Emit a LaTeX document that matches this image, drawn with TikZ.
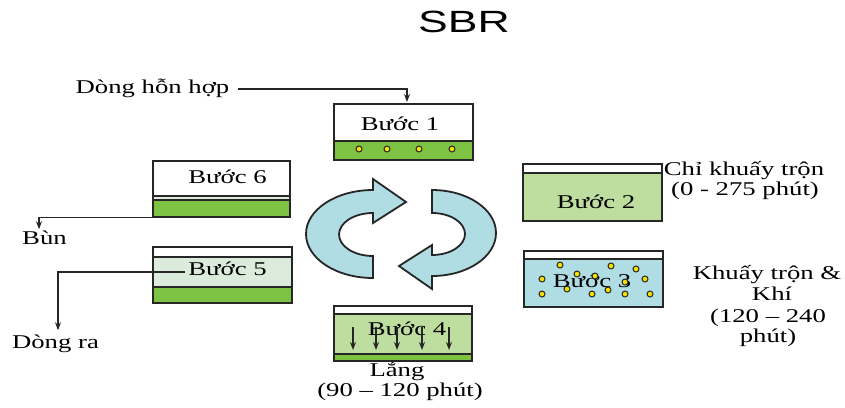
\documentclass[tikz,border=0pt]{standalone}
\usepackage{fontspec}
\setmainfont{Liberation Serif}[FakeStretch=1.37]
\newfontfamily\titlefont{Liberation Sans}[FakeStretch=1.45]
\usetikzlibrary{arrows.meta}

\definecolor{tankgreen}{RGB}{125,194,66}
\definecolor{lightgreen}{RGB}{190,222,160}
\definecolor{palegreen}{RGB}{220,236,220}
\definecolor{aerblue}{RGB}{176,221,228}
\definecolor{bubblefill}{RGB}{245,225,0}

\tikzset{
  tank/.style={draw=black!85, line width=2pt},
  layer/.style={draw=black!85, line width=1.4pt},
  lbl/.style={inner sep=0pt, anchor=base, font=\fontsize{19.5}{22}\selectfont},
  flow/.style={draw=black!85, line width=1.3pt, -{Stealth[length=8pt,width=6pt]}},
  bubble/.style={draw=black!85, fill=bubblefill, line width=1pt},
  loop/.style={draw=black!85, fill=aerblue, line width=1.8pt},
}

\begin{document}
\begin{tikzpicture}[x=1pt, y=-1pt] % pixel grid, y pointing down
    \useasboundingbox (0,0) rectangle (845,407);

    % Title
    \node[inner sep=0pt, anchor=base, font=\titlefont\fontsize{30.7}{34}\selectfont] (title) at (464,32) {SBR};

    % Step 1: fill
    \fill[white] (334,104) rectangle (473,141);
    \fill[tankgreen] (334,141) rectangle (473,160);
    \draw[layer] (334,141) -- (473,141);
    \draw[tank] (334,104) rectangle (473,160);
    \coordinate (s1top) at (407,104);
    \node[lbl] (s1) at (400,130) {Bước 1};
    \foreach \x in {359,387,419,452}
        \draw[bubble] (\x,149) circle (3);

    % Step 2: mixing only
    \fill[white] (523,164) rectangle (662,173);
    \fill[lightgreen] (523,173) rectangle (662,221);
    \draw[layer] (523,173) -- (662,173);
    \draw[tank] (523,164) rectangle (662,221);
    \node[lbl] (s2) at (596,208) {Bước 2};
    \node[lbl] (s2a) at (744,175) {Chỉ khuấy trộn};
    \node[lbl] (s2b) at (745,195) {(0 - 275 phút)};

    % Step 3: mixing and aeration
    \fill[white] (524,251) rectangle (663,259);
    \fill[aerblue] (524,259) rectangle (663,307);
    \draw[layer] (524,259) -- (663,259);
    \draw[tank] (524,251) rectangle (663,307);
    \node[lbl] (s3) at (592,287) {Bước 3};
    \foreach \x/\y in {560/265, 611/266, 636/269, 577/274, 595/276, 542/279, 645/279,
                       625/282, 567/289, 608/290, 542/294, 592/294, 625/294, 650/294}
        \draw[bubble] (\x,\y) circle (3);
    \node[lbl] (s3a) at (767,279) {Khuấy trộn \&};
    \node[lbl] (s3b) at (772,300) {Khí};
    \node[lbl] (s3c) at (768,322) {(120 – 240};
    \node[lbl] (s3d) at (768,342) {phút)};

    % Step 4: settling
    \fill[white] (334,306) rectangle (472,314);
    \fill[lightgreen] (334,314) rectangle (472,354);
    \fill[tankgreen] (334,354) rectangle (472,361);
    \draw[layer] (334,314) -- (472,314);
    \draw[layer] (334,354) -- (472,354);
    \draw[tank] (334,306) rectangle (472,361);
    \node[lbl] (s4) at (407,335) {Bước 4};
    \foreach \x in {353,376,397,422,449}
        \draw[flow] (\x,327) -- (\x,350);
    \node[lbl] (s4a) at (397,376) {Lắng};
    \node[lbl] (s4b) at (400,396) {(90 – 120 phút)};

    % Step 5: draw
    \fill[white] (153,247) rectangle (292,257);
    \fill[palegreen] (153,257) rectangle (292,287);
    \fill[tankgreen] (153,287) rectangle (292,303);
    \draw[layer] (153,257) -- (292,257);
    \draw[layer] (153,287) -- (292,287);
    \draw[tank] (153,247) rectangle (292,303);
    \node[lbl] (s5) at (227.5,275) {Bước 5};

    % Step 6: sludge wasting
    \fill[white] (153,161) rectangle (290,196);
    \fill[palegreen] (153,196) rectangle (290,200);
    \fill[tankgreen] (153,200) rectangle (290,217);
    \draw[layer] (153,196) -- (290,196);
    \draw[layer] (153,200) -- (290,200);
    \draw[tank] (153,161) rectangle (290,217);
    \coordinate (s6sw) at (153,217.5);
    \node[lbl] (s6) at (227.5,183) {Bước 6};

    % Inlet and outlets
    \node[lbl] (mix) at (152.5,93) {Dòng hỗn hợp};
    \node[lbl] (bun) at (44.5,244) {Bùn};
    \node[lbl] (out) at (55.5,348) {Dòng ra};
    \draw[flow, shorten >=2pt] ([xshift=8pt, yshift=4pt]mix.base east) -| (s1top);
    \draw[flow, shorten >=1pt] (s6sw) -| ([xshift=-5.5pt]bun.north);
    \draw[flow, shorten >=4pt] ([xshift=-3pt, yshift=3pt]s5.base west) -| ([xshift=2.5pt]out.north);

    % Cycle arrows
    \path[loop] (373,278) arc[start angle=90, end angle=270, x radius=67, y radius=44]
        -- (373,179) -- (406,202) -- (373,223) -- (373,213)
        arc[start angle=270, end angle=90, x radius=34, y radius=21.5] -- cycle;
    \begin{scope}[rotate around={180:(402.5,234)}]
        \path[loop] (373,278) arc[start angle=90, end angle=270, x radius=64, y radius=43]
            -- (373,179) -- (406,202) -- (373,223) -- (373,213)
            arc[start angle=270, end angle=90, x radius=33, y radius=21] -- cycle;
    \end{scope}
\end{tikzpicture}
\end{document}
